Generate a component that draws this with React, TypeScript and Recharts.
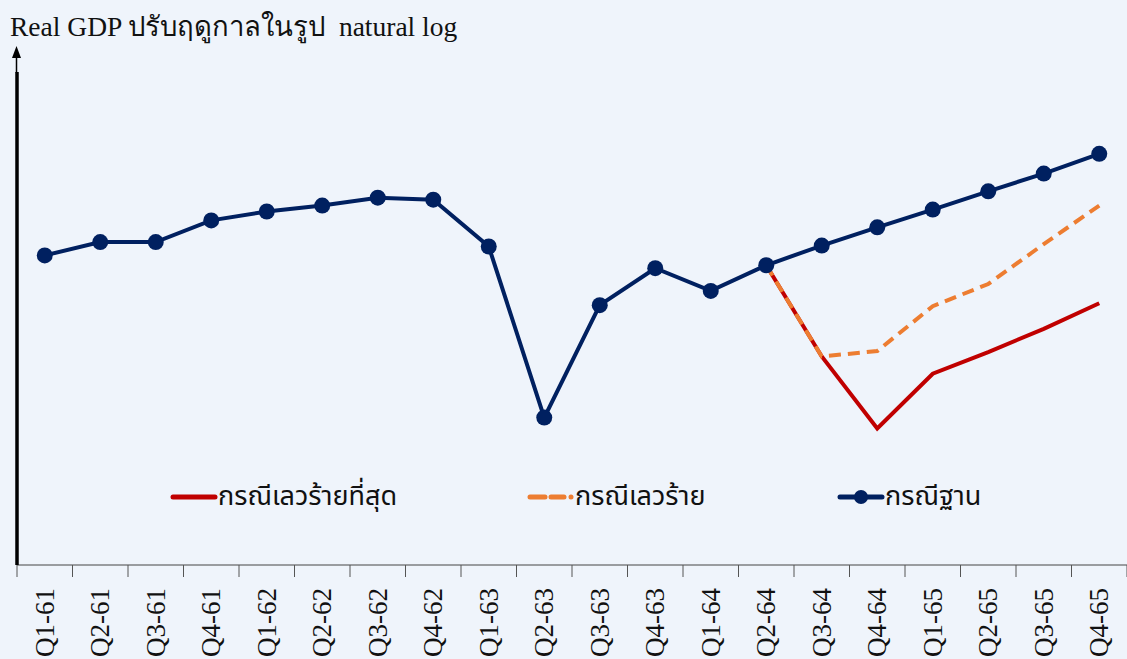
import React from 'react';
import { LineChart, Line, XAxis, YAxis } from 'recharts';

const categories = ['Q1-61','Q2-61','Q3-61','Q4-61','Q1-62','Q2-62','Q3-62','Q4-62','Q1-63','Q2-63','Q3-63','Q4-63','Q1-64','Q2-64','Q3-64','Q4-64','Q1-65','Q2-65','Q3-65','Q4-65'];
const baseCase = [62.8,65.5,65.5,69.9,71.7,72.9,74.5,74.1,64.6,29.9,52.7,60.2,55.6,60.8,64.8,68.5,72.1,75.8,79.4,83.4];
const badCase: (number|null)[] = [null,null,null,null,null,null,null,null,null,null,null,null,null,60.8,42.3,43.4,52.5,57.0,65.1,72.9];
const worstCase: (number|null)[] = [null,null,null,null,null,null,null,null,null,null,null,null,null,60.8,42.3,27.7,38.8,43.2,47.9,53.1];

const seriesNames = { worst: 'กรณีเลวร้ายที่สุด', bad: 'กรณีเลวร้าย', base: 'กรณีฐาน' };
const titleText = 'Real GDP ปรับฤดูกาลในรูป  natural log';

const data = categories.map((c, i) => ({ cat: c, base: baseCase[i], bad: badCase[i], worst: worstCase[i] }));

const W = 1127, H = 659;
const X_H = 94;
const M = { top: 72, left: 16, right: 0, bottom: 0 };
const Y_W = 1;
const AXIS_Y = H - X_H;
const HALF_BAND = (W - M.left - Y_W - M.right) / categories.length / 2;

const NAVY = '#002060';
const RED = '#C00000';
const ORANGE = '#ED7D31';
const BG = '#EFF4FB';
const SERIF = '"Liberation Serif", "DejaVu Serif", serif';
const THAI = '"Noto Sans Thai", "Noto Sans", "DejaVu Sans", sans-serif';

const Tick = (props: any) => {
  const { x, payload, index } = props;
  const last = index === categories.length - 1;
  return (
    <g>
      <line x1={x - HALF_BAND} x2={x - HALF_BAND} y1={AXIS_Y} y2={AXIS_Y + 12} stroke="#555" strokeWidth={1} />
      {last && <line x1={x + HALF_BAND} x2={x + HALF_BAND} y1={AXIS_Y} y2={AXIS_Y + 12} stroke="#555" strokeWidth={1} />}
      <text transform={`translate(${x + 9},${AXIS_Y + 23}) rotate(-90)`} textAnchor="end" fontFamily={SERIF} fontSize={27} fill="#111">
        {payload.value}
      </text>
    </g>
  );
};

const LegendOverlay = () => {
  const item = (left: number, icon: React.ReactNode, label: string) => (
    <div style={{ position: 'absolute', left, top: 0, display: 'flex', alignItems: 'center', height: 40 }}>
      <svg width={48} height={20} style={{ display: 'block' }}>{icon}</svg>
      <span style={{ fontFamily: THAI, fontSize: 27, color: '#111', whiteSpace: 'nowrap', lineHeight: '40px' }}>{label}</span>
    </div>
  );
  return (
    <div style={{ position: 'absolute', left: 0, top: 477, width: W, height: 40, pointerEvents: 'none' }}>
      {item(170, <line x1={3} x2={45} y1={10} y2={10} stroke={RED} strokeWidth={5} strokeLinecap="round" />, seriesNames.worst)}
      {item(527, <g><line x1={3} x2={18} y1={10} y2={10} stroke={ORANGE} strokeWidth={5} strokeLinecap="round" /><line x1={24} x2={37} y1={10} y2={10} stroke={ORANGE} strokeWidth={5} strokeLinecap="round" /><circle cx={44} cy={10} r={2.5} fill={ORANGE} /></g>, seriesNames.bad)}
      {item(837, <g><line x1={3} x2={45} y1={10} y2={10} stroke={NAVY} strokeWidth={5} strokeLinecap="round" /><circle cx={24} cy={10} r={7} fill={NAVY} /></g>, seriesNames.base)}
    </div>
  );
};

export default function App() {
  return (
    <div style={{ position: 'absolute', left: 0, top: 0, width: W, height: H, background: BG, overflow: 'hidden' }}>
      <LineChart width={W} height={H} data={data} margin={M}>
        <XAxis dataKey="cat" axisLine={{ stroke: '#444', strokeWidth: 1 }} tickLine={false} tick={<Tick />} interval={0} height={X_H} padding={{ left: HALF_BAND, right: HALF_BAND }} />
        <YAxis domain={[0, 100]} width={Y_W} tick={false} tickLine={false} axisLine={{ stroke: '#000', strokeWidth: 3.5 }} />
        <Line dataKey="worst" stroke={RED} strokeWidth={4} dot={false} isAnimationActive={false} connectNulls={false} />
        <Line dataKey="bad" stroke={ORANGE} strokeWidth={4} strokeDasharray="12 7" dot={false} isAnimationActive={false} connectNulls={false} />
        <Line dataKey="base" stroke={NAVY} strokeWidth={4} dot={{ r: 8, fill: NAVY, stroke: NAVY, strokeWidth: 0 }} isAnimationActive={false} />
      </LineChart>
      <LegendOverlay />
      <svg width={W} height={80} style={{ position: 'absolute', left: 0, top: 0, pointerEvents: 'none' }}>
        <text x={10} y={36} fontFamily={SERIF} fontSize={27.5} fill="#111" style={{ whiteSpace: 'pre' }}>{titleText}</text>
        <line x1={16.5} x2={16.5} y1={57} y2={73} stroke="#000" strokeWidth={1.5} />
        <path d="M16.5 46 L12 58 L21 58 Z" fill="#000" />
      </svg>
    </div>
  );
}
